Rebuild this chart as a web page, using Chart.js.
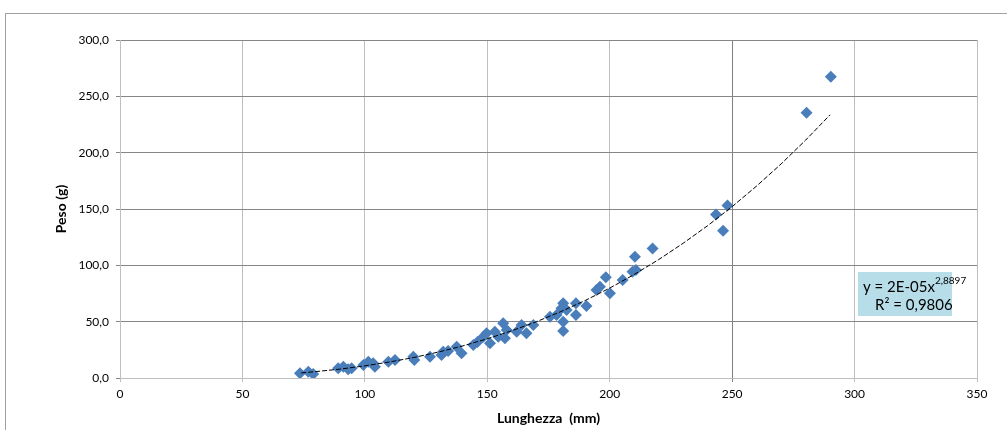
<!DOCTYPE html>
<html>
<head>
<meta charset="utf-8">
<script src="https://cdn.jsdelivr.net/npm/chart.js@4.4.1/dist/chart.umd.min.js"></script>
<style>
  html, body { margin: 0; padding: 0; background: #fff; }
  #wrap { width: 1007px; height: 430px; }
</style>
</head>
<body>
<div id="wrap"><canvas id="myCanvas" width="1007" height="430"></canvas></div>
<script>
const lunghezza = [73.5, 76.9, 78.9, 89.1, 91.2, 93.2, 94.6, 99.4, 101.4, 103.4, 104.1, 109.6, 112.3,
  119.8, 120.2, 126.6, 131.3, 132.0, 134.0, 137.5, 139.5, 144.3, 146.0, 148.4, 149.7, 151.1, 153.1,
  154.5, 156.5, 157.2, 157.9, 162.0, 164.0, 166.0, 168.8, 175.6, 178.3, 181.0, 180.3, 182.4, 181.0,
  181.0, 186.2, 186.2, 190.5, 194.6, 196.0, 198.4, 200.1, 205.3, 209.3, 210.3, 210.7, 217.5, 243.4,
  248.1, 246.3, 280.4, 290.3]
const peso = [4.2, 5.6, 3.5, 8.6, 10.0, 7.7, 8.6, 11.5, 14.5, 13.0, 10.0, 14.5, 16.0,
  18.9, 16.0, 18.9, 20.4, 23.3, 24.0, 27.8, 21.9, 29.3, 32.0, 36.6, 39.7, 30.8, 41.1,
  36.6, 48.5, 35.2, 42.6, 41.1, 47.0, 39.7, 47.0, 54.4, 55.9, 66.3, 61.8, 60.3, 50.0,
  41.7, 66.3, 55.9, 63.9, 78.1, 81.0, 89.4, 75.2, 87.0, 94.3, 107.6, 95.8, 115.0, 145.2,
  153.2, 130.7, 235.4, 267.4]

// linea di tendenza (potenza)
const trendX = [74, 80, 90, 100, 110, 120, 130, 140, 150, 160, 170, 180, 190, 200, 210, 220, 230, 240, 250, 260, 270, 280, 290]
const trendY = [4.5, 5.7, 7.9, 10.8, 14.2, 18.2, 23.0, 28.5, 34.8, 41.9, 49.9, 58.9, 68.8, 79.8, 91.9, 105.1, 119.6, 135.2, 152.1, 170.4, 190.0, 211.1, 233.6]

const eqText = 'y = 2E-05x'
const eqExp = '2,8897'
const r2Text = 'R² = 0,9806'

const punti = lunghezza.map((x, i) => ({ x: x, y: peso[i] }))
const trend = trendX.map((x, i) => ({ x: x, y: trendY[i] }))

const fontName = 'Lato, "Liberation Sans", sans-serif'

const cornice = {
  id: 'cornice',
  beforeDraw(chart) {
    const ctx = chart.ctx
    ctx.save()
    ctx.strokeStyle = '#a0a0a0'
    ctx.lineWidth = 1
    ctx.strokeRect(5.5, 13.5, 1200, 600)
    ctx.restore()
  },
  afterDraw(chart) {
    const ctx = chart.ctx
    const area = chart.chartArea
    const bx = area.right - 119
    const by = area.bottom - 106
    ctx.save()
    ctx.fillStyle = '#b7dde8'
    ctx.fillRect(bx, by, 94, 44)
    ctx.fillStyle = '#000'
    ctx.textBaseline = 'alphabetic'
    ctx.font = '15px ' + fontName
    ctx.fillText(eqText, bx + 5, by + 20)
    const w = ctx.measureText(eqText).width
    ctx.font = '10px ' + fontName
    ctx.fillText(eqExp, bx + 5 + w, by + 12)
    ctx.font = '15px ' + fontName
    ctx.fillText(r2Text, bx + 17, by + 38)
    ctx.restore()
  }
}

new Chart(document.getElementById('myCanvas'), {
  type: 'scatter',
  data: {
    datasets: [
      {
        label: 'tendenza',
        data: trend,
        showLine: true,
        borderColor: '#000',
        borderWidth: 1,
        borderDash: [5, 2],
        pointRadius: 0,
        fill: false
      },
      {
        label: 'peso',
        data: punti,
        pointStyle: 'rectRot',
        pointRadius: 6,
        backgroundColor: '#4a7ebb',
        borderColor: '#4a7ebb',
        borderWidth: 0
      }
    ]
  },
  plugins: [cornice],
  options: {
    responsive: false,
    animation: false,
    layout: { padding: { left: 0, right: 30, top: 40, bottom: 0 } },
    plugins: {
      legend: { display: false },
      tooltip: { enabled: false }
    },
    scales: {
      x: {
        type: 'linear',
        min: 0,
        max: 350,
        afterFit: scale => { scale.height = 52 },
        ticks: {
          stepSize: 50,
          padding: 5,
          color: '#000',
          font: { family: fontName, size: 12 },
          maxRotation: 0
        },
        grid: {
          color: ctx => ctx.tick && ctx.tick.value === 250 ? '#7f7f7f' : '#bfbfbf',
          tickLength: 4,
          drawTicks: true
        },
        border: { color: '#bfbfbf' },
        title: {
          display: true,
          text: 'Lunghezza  (mm)',
          color: '#000',
          font: { family: fontName, size: 14, weight: 'bold' },
          padding: { top: 0, bottom: 3 }
        }
      },
      y: {
        type: 'linear',
        min: 0,
        max: 300,
        afterFit: scale => { scale.width = 120 },
        ticks: {
          stepSize: 50,
          padding: 7,
          color: '#000',
          font: { family: fontName, size: 12 },
          callback: v => v.toFixed(1).replace('.', ',')
        },
        grid: {
          color: '#868686',
          tickLength: 4
        },
        border: { color: '#bfbfbf' },
        title: {
          display: true,
          text: 'Peso (g)',
          color: '#000',
          font: { family: fontName, size: 14, weight: 'bold' },
          padding: { top: 53, bottom: 0 }
        }
      }
    }
  }
})
</script>
</body>
</html>
